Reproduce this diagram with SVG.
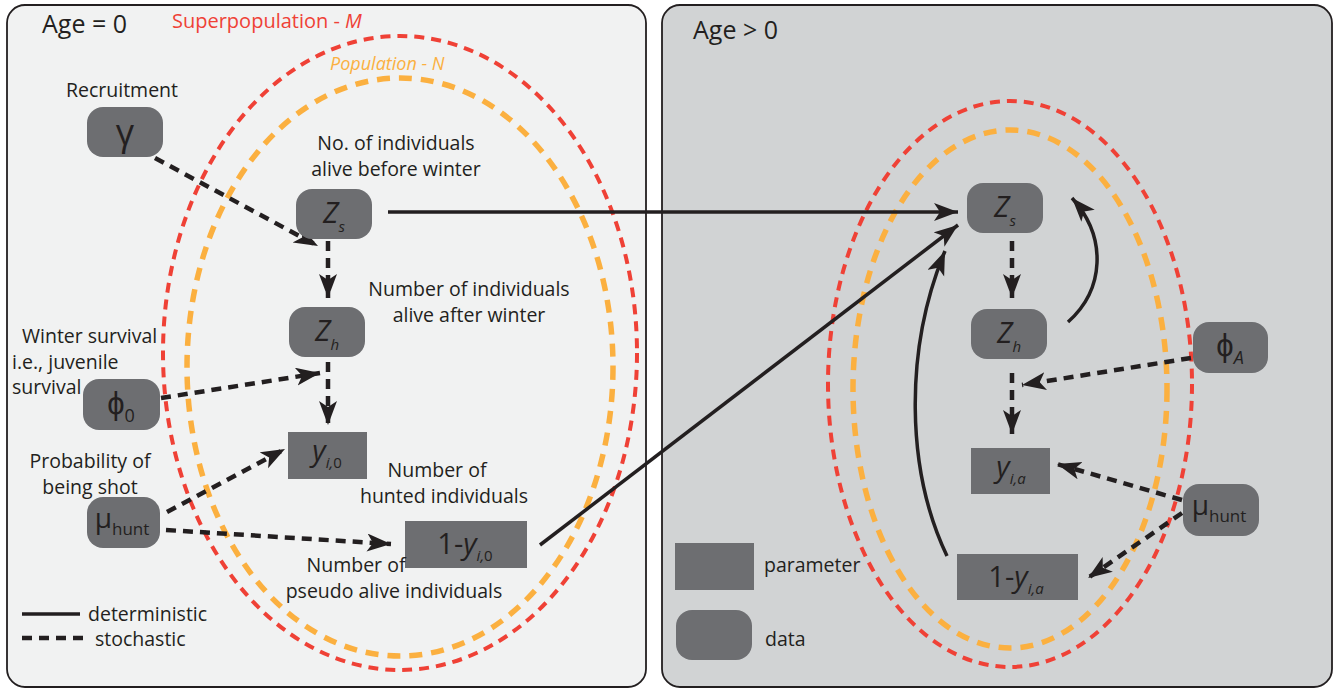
<svg xmlns="http://www.w3.org/2000/svg" width="1334" height="689" viewBox="0 0 1334 689">
<style>
text{font-family:"Open Sans","Liberation Sans",sans-serif;fill:#231f20}
.lbl{font-size:19.5px}
.node{fill:#6d6e71}
.nt{font-size:29px;text-anchor:middle}
.it{font-style:italic}
.sub{font-size:15px}
.dash{fill:none;stroke:#231f20;stroke-width:4.5;stroke-dasharray:10 7}
.solid{fill:none;stroke:#231f20;stroke-width:3.5}
.red{fill:none;stroke:#ef4136;stroke-width:4;stroke-dasharray:10 7}
.org{fill:none;stroke:#fbb040;stroke-width:5.5;stroke-dasharray:13 9}
</style>
<defs>
<marker id="ah" markerUnits="userSpaceOnUse" markerWidth="26" markerHeight="20" refX="24" refY="9" orient="auto">
<path d="M0,0 L24,9 L0,18 L6,9 Z" fill="#231f20"/>
</marker>
</defs>

<g id="panel-age0">
<rect x="7" y="5" width="639" height="682" rx="18" fill="#f1f2f2" stroke="#231f20" stroke-width="1.8"/>
<text x="42" y="33" style="font-size:25px">Age = 0</text>
<text x="172" y="28" style="font-size:20px;fill:#ef4136">Superpopulation - <tspan class="it" style="fill:#ef4136">M</tspan></text>
<ellipse class="red" cx="400" cy="353" rx="237" ry="317"/>
<text x="330" y="70" class="it" style="font-size:18px;fill:#fbb040">Population - N</text>
<ellipse class="org" cx="400" cy="367" rx="213" ry="289"/>
</g>

<g id="panel-age-gt0">
<rect x="662" y="5" width="670" height="682" rx="18" fill="#d1d3d4" stroke="#231f20" stroke-width="1.8"/>
<text x="693" y="39" style="font-size:25px">Age &gt; 0</text>
<ellipse class="red" cx="1010" cy="384" rx="182" ry="283"/>
<ellipse class="org" cx="1010" cy="389" rx="157" ry="259"/>
</g>

<g id="connectors">
<line class="dash" x1="155" y1="158" x2="318" y2="246" marker-end="url(#ah)"/>
<line class="dash" x1="328" y1="241" x2="328" y2="298" marker-end="url(#ah)"/>
<line class="dash" x1="161" y1="398" x2="320" y2="373" marker-end="url(#ah)"/>
<line class="dash" x1="328" y1="362" x2="328" y2="425" marker-end="url(#ah)"/>
<line class="dash" x1="167" y1="512" x2="285" y2="449" marker-end="url(#ah)"/>
<line class="dash" x1="166" y1="530" x2="391" y2="544" marker-end="url(#ah)"/>
<line class="solid" x1="388" y1="212" x2="958" y2="212" marker-end="url(#ah)"/>
<line class="solid" x1="540" y1="545" x2="958" y2="225" marker-end="url(#ah)"/>
<line class="dash" x1="1012" y1="241" x2="1012" y2="298" marker-end="url(#ah)"/>
<line class="dash" x1="1191" y1="358" x2="1022" y2="385" marker-end="url(#ah)"/>
<line class="dash" x1="1012" y1="373" x2="1012" y2="434" marker-end="url(#ah)"/>
<line class="dash" x1="1182" y1="500" x2="1057" y2="464" marker-end="url(#ah)"/>
<line class="dash" x1="1182" y1="513" x2="1088" y2="578" marker-end="url(#ah)"/>
<path class="solid" d="M1068,322 C1104,290 1108,238 1072,198" marker-end="url(#ah)"/>
<path class="solid" d="M947,556 C906,470 904,350 945,251" marker-end="url(#ah)"/>
</g>

<g id="node-gamma">
<text x="122" y="97" class="lbl" text-anchor="middle">Recruitment</text>
<rect class="node" x="87" y="107" width="76" height="50" rx="16"/>
<text x="125" y="145" style="font-size:36px" text-anchor="middle">γ</text>
</g>

<g id="node-Zs-0">
<text x="396" y="150" class="lbl" text-anchor="middle">No. of individuals</text>
<text x="396" y="176" class="lbl" text-anchor="middle">alive before winter</text>
<rect class="node" x="296" y="189" width="76" height="50" rx="16"/>
<text x="334" y="223" class="nt"><tspan class="it">Z</tspan><tspan class="it sub" dy="9">s</tspan></text>
</g>

<g id="node-Zh-0">
<text x="469" y="296" class="lbl" text-anchor="middle">Number of individuals</text>
<text x="469" y="322" class="lbl" text-anchor="middle">alive after winter</text>
<rect class="node" x="289" y="307" width="76" height="50" rx="16"/>
<text x="327" y="341" class="nt"><tspan class="it">Z</tspan><tspan class="it sub" dy="9">h</tspan></text>
</g>

<g id="node-phi0">
<text x="22" y="343" class="lbl">Winter survival</text>
<text x="12" y="369" class="lbl">i.e., juvenile</text>
<text x="12" y="394" class="lbl">survival</text>
<rect class="node" x="83" y="379" width="77" height="51" rx="16"/>
<text x="121" y="414" class="nt" style="font-size:31px">ϕ<tspan class="sub" style="font-size:18px" dy="8">0</tspan></text>
</g>

<g id="node-y0">
<rect class="node" x="288" y="432" width="79" height="47"/>
<text x="327" y="461" class="nt"><tspan class="it">y</tspan><tspan class="it sub" dy="7">i,</tspan><tspan class="sub">0</tspan></text>
<text x="437" y="477" class="lbl" text-anchor="middle">Number of</text>
<text x="444" y="503" class="lbl" text-anchor="middle">hunted individuals</text>
</g>

<g id="node-mu-0">
<text x="90" y="468" class="lbl" text-anchor="middle">Probability of</text>
<text x="90" y="494" class="lbl" text-anchor="middle">being shot</text>
<rect class="node" x="87" y="497" width="73" height="51" rx="16"/>
<text x="122" y="528" class="nt" style="font-size:28px">μ<tspan class="sub" style="font-size:17px" dy="7">hunt</tspan></text>
</g>

<g id="node-1my0">
<rect class="node" x="405" y="521" width="122" height="47"/>
<text x="465" y="554" class="nt">1-<tspan class="it">y</tspan><tspan class="it sub" dy="7">i,</tspan><tspan class="sub">0</tspan></text>
<text x="356" y="572" class="lbl" text-anchor="middle">Number of</text>
<text x="394" y="598" class="lbl" text-anchor="middle">pseudo alive individuals</text>
</g>

<g id="legend-lines">
<line x1="22" y1="614" x2="80" y2="614" stroke="#231f20" stroke-width="3.5"/>
<text x="88" y="621" class="lbl">deterministic</text>
<line class="dash" x1="22" y1="638" x2="84" y2="638"/>
<text x="95" y="646" class="lbl">stochastic</text>
</g>

<g id="node-Zs-a">
<rect class="node" x="967" y="183" width="76" height="50" rx="16"/>
<text x="1005" y="217" class="nt"><tspan class="it">Z</tspan><tspan class="it sub" dy="9">s</tspan></text>
</g>

<g id="node-Zh-a">
<rect class="node" x="971" y="309" width="76" height="50" rx="16"/>
<text x="1009" y="343" class="nt"><tspan class="it">Z</tspan><tspan class="it sub" dy="9">h</tspan></text>
</g>

<g id="node-phiA">
<rect class="node" x="1193" y="322" width="75" height="51" rx="16"/>
<text x="1230" y="356" class="nt" style="font-size:31px">ϕ<tspan class="it sub" style="font-size:18px" dy="8">A</tspan></text>
</g>

<g id="node-ya">
<rect class="node" x="971" y="448" width="79" height="46"/>
<text x="1011" y="477" class="nt"><tspan class="it">y</tspan><tspan class="it sub" dy="7">i,a</tspan></text>
</g>

<g id="node-mu-a">
<rect class="node" x="1183" y="484" width="76" height="52" rx="16"/>
<text x="1219" y="515" class="nt" style="font-size:28px">μ<tspan class="sub" style="font-size:17px" dy="7">hunt</tspan></text>
</g>

<g id="node-1mya">
<rect class="node" x="957" y="554" width="121" height="46"/>
<text x="1016" y="587" class="nt">1-<tspan class="it">y</tspan><tspan class="it sub" dy="7">i,a</tspan></text>
</g>

<g id="legend-nodes">
<rect class="node" x="675" y="543" width="79" height="47"/>
<text x="764" y="572" class="lbl">parameter</text>
<rect class="node" x="676" y="610" width="76" height="50" rx="16"/>
<text x="765" y="646" class="lbl">data</text>
</g>
</svg>
